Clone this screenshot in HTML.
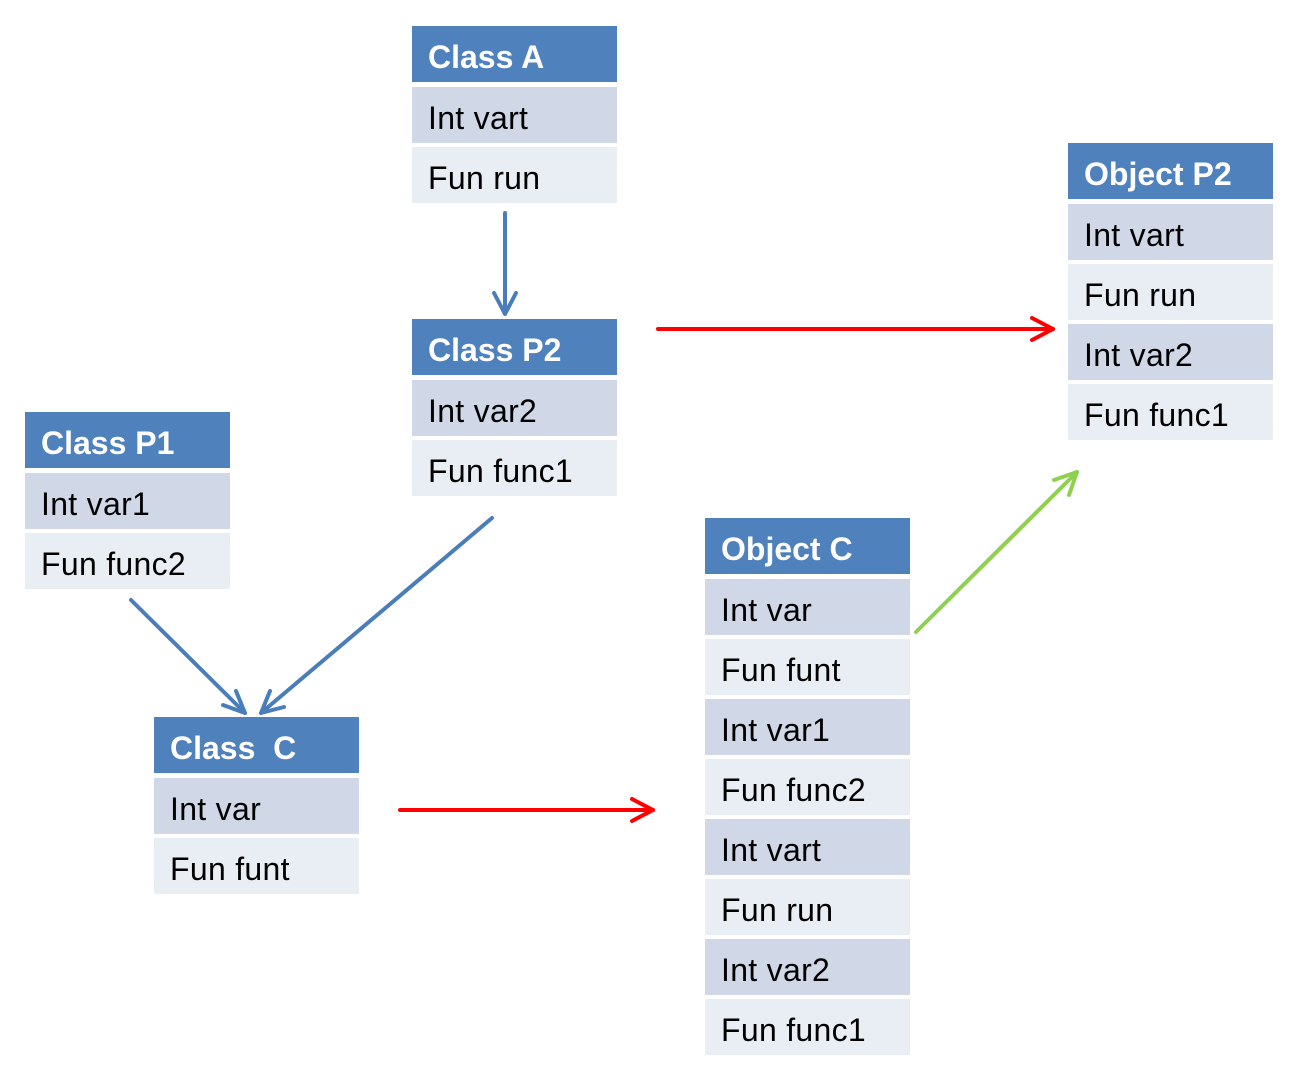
<!DOCTYPE html>
<html><head><meta charset="utf-8"><style>
body{margin:0;width:1298px;height:1081px;background:#fff;position:relative;overflow:hidden;font-family:"Liberation Sans",sans-serif}
.b{position:absolute;width:205px}
.h,.r{height:56px;line-height:62px;padding-left:16px;font-size:32px;letter-spacing:0.3px;box-sizing:border-box;white-space:nowrap;overflow:hidden}
.h{background:#4f81bd;color:#fff;font-weight:bold;margin-bottom:5px;letter-spacing:0}
.r{color:#000;margin-bottom:4px}
.d{background:#d0d8e8}.l{background:#e9edf4}
svg{position:absolute;left:0;top:0}
</style></head><body>
<div class="b" style="left:412px;top:26px"><div class="h">Class A</div><div class="r d">Int vart</div><div class="r l">Fun run</div></div>
<div class="b" style="left:412px;top:319px"><div class="h">Class P2</div><div class="r d">Int var2</div><div class="r l">Fun func1</div></div>
<div class="b" style="left:25px;top:412px"><div class="h">Class P1</div><div class="r d">Int var1</div><div class="r l">Fun func2</div></div>
<div class="b" style="left:154px;top:717px"><div class="h">Class&nbsp; C</div><div class="r d">Int var</div><div class="r l">Fun funt</div></div>
<div class="b" style="left:1068px;top:143px"><div class="h">Object P2</div><div class="r d">Int vart</div><div class="r l">Fun run</div><div class="r d">Int var2</div><div class="r l">Fun func1</div></div>
<div class="b" style="left:705px;top:518px"><div class="h">Object C</div><div class="r d">Int var</div><div class="r l">Fun funt</div><div class="r d">Int var1</div><div class="r l">Fun func2</div><div class="r d">Int vart</div><div class="r l">Fun run</div><div class="r d">Int var2</div><div class="r l">Fun func1</div></div>
<svg width="1298" height="1081" fill="none" stroke-width="4" stroke-linecap="round" stroke-linejoin="round">
<g stroke="#4a7ebb">
<line x1="505" y1="213" x2="505" y2="314"/><polyline points="494,293 505,314 516,293"/>
<line x1="131" y1="600" x2="245" y2="713"/><polyline points="236,691 245,713 223,705"/>
<line x1="492" y1="518" x2="261" y2="713"/><polyline points="270,691 261,713 284,707"/>
</g>
<g stroke="#ff0000">
<line x1="658" y1="329" x2="1053" y2="329"/><polyline points="1032,318 1053,329 1032,340"/>
<line x1="400" y1="810" x2="653" y2="810"/><polyline points="632,799 653,810 632,821"/>
</g>
<g stroke="#8fd14f">
<line x1="916" y1="632" x2="1077" y2="472"/><polyline points="1054,480 1077,472 1069,495"/>
</g>
</svg>
</body></html>
